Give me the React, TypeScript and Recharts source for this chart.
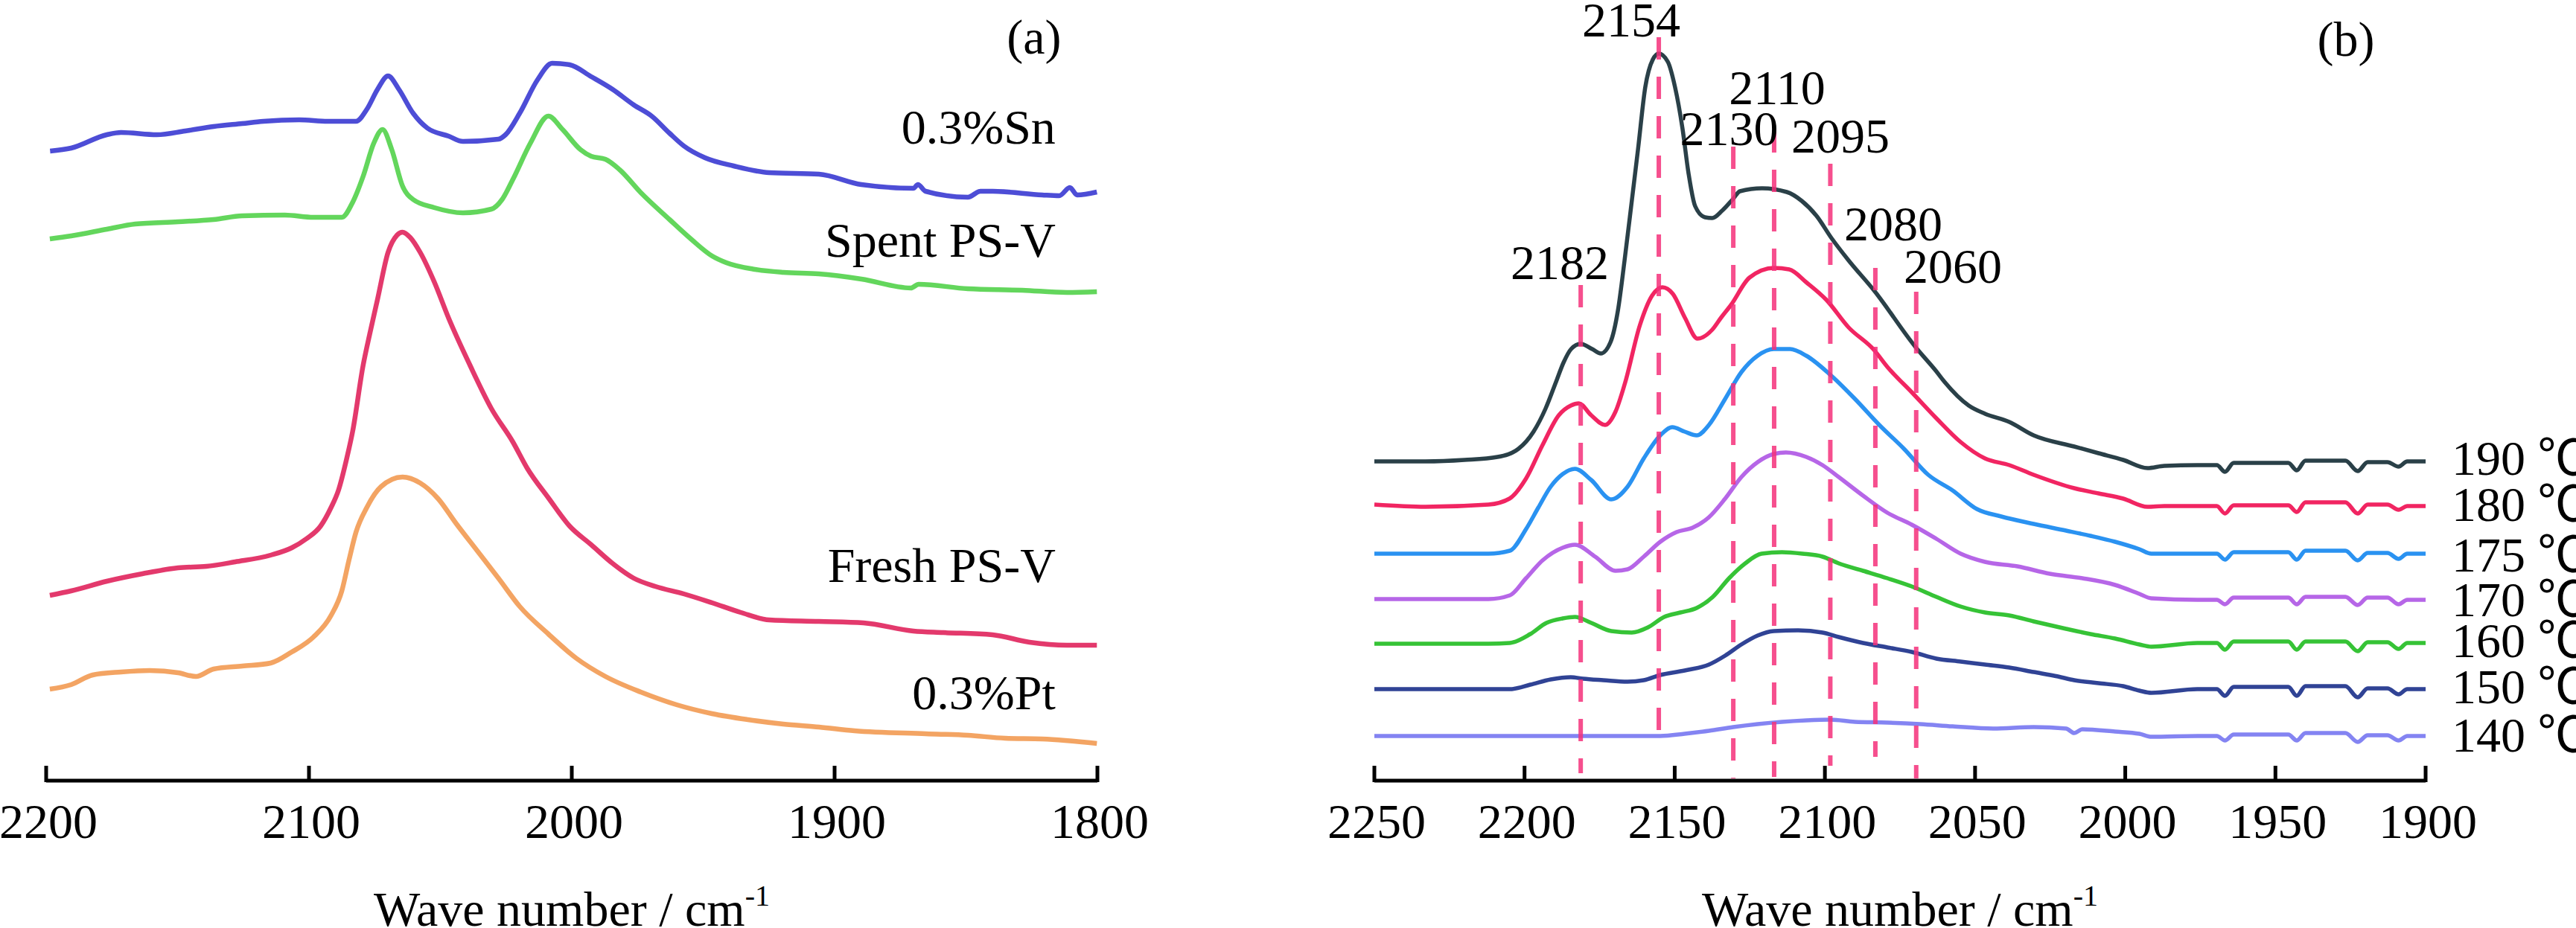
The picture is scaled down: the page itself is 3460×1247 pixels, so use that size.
import React from 'react';
import { LineChart, Line, XAxis, YAxis, ReferenceLine, ReferenceDot } from 'recharts';

const FONT = '"Liberation Serif", "Times New Roman", Times, serif';
const DEG_FONT = '"Liberation Serif", "Noto Sans CJK SC", serif';

type Pt = [number, number];

// ---------- Panel (a) ----------
const ticksA = [2200, 2100, 2000, 1900, 1800];

const sn: Pt[] = [
  [2198.5, 8.46], [2190.5, 8.5], [2176.9, 8.68], [2171.5, 8.71], [2157.9, 8.68], [2147.1, 8.73],
  [2136.3, 8.79], [2125.4, 8.83], [2117.3, 8.86], [2103.7, 8.88], [2092.9, 8.86], [2082.1, 8.86],
  [2078.0, 9.02], [2073.9, 9.29], [2069.9, 9.47], [2065.8, 9.29], [2060.4, 8.97], [2055.0, 8.77],
  [2046.8, 8.66], [2041.4, 8.59], [2027.9, 8.62], [2025.2, 8.68], [2019.8, 8.97], [2013.0, 9.42],
  [2007.5, 9.64], [2000.8, 9.62], [1992.6, 9.46], [1984.5, 9.29], [1976.4, 9.08], [1969.6, 8.93],
  [1962.8, 8.7], [1957.4, 8.53], [1949.3, 8.37], [1938.4, 8.26], [1924.9, 8.17], [1906.0, 8.15],
  [1889.8, 8.01], [1870.0, 7.96], [1868.3, 8.01], [1865.4, 7.92], [1849.3, 7.84], [1844.5, 7.92],
  [1839.8, 7.92], [1821.0, 7.87], [1814.5, 7.86], [1810.5, 7.97], [1807.7, 7.87], [1800.2, 7.91],
];

const spent: Pt[] = [
  [2198.6, 7.28], [2190.5, 7.32], [2176.9, 7.41], [2166.1, 7.48], [2149.8, 7.51], [2136.3, 7.54],
  [2125.4, 7.59], [2109.2, 7.6], [2098.3, 7.57], [2087.5, 7.57], [2083.4, 7.77], [2079.4, 8.12],
  [2075.3, 8.57], [2072.0, 8.75], [2068.5, 8.48], [2064.4, 7.99], [2060.4, 7.81], [2052.3, 7.7],
  [2041.4, 7.63], [2030.6, 7.68], [2026.5, 7.81], [2022.4, 8.08], [2015.7, 8.57], [2008.9, 8.93],
  [2003.5, 8.75], [1996.7, 8.48], [1992.6, 8.39], [1987.2, 8.35], [1981.8, 8.21], [1973.7, 7.9],
  [1962.8, 7.54], [1954.7, 7.28], [1946.6, 7.05], [1941.2, 6.96], [1930.3, 6.87], [1919.5, 6.83],
  [1906.0, 6.81], [1889.8, 6.74], [1871.0, 6.62], [1868.0, 6.67], [1849.3, 6.61], [1828.6, 6.59],
  [1811.6, 6.56], [1800.2, 6.57],
];

const fresh: Pt[] = [
  [2198.6, 2.49], [2190.5, 2.55], [2176.9, 2.68], [2163.4, 2.78], [2149.8, 2.86], [2139.0, 2.88],
  [2128.1, 2.94], [2114.6, 3.03], [2106.5, 3.13], [2101.0, 3.25], [2095.6, 3.42], [2091.6, 3.67],
  [2088.8, 3.9], [2085.5, 4.35], [2083.4, 4.69], [2079.4, 5.58], [2076.7, 6.03], [2073.9, 6.47],
  [2069.9, 7.1], [2066.5, 7.33], [2064.4, 7.37], [2061.5, 7.3], [2057.7, 7.1], [2052.3, 6.7],
  [2046.8, 6.21], [2038.7, 5.58], [2030.6, 5.0], [2022.4, 4.55], [2017.0, 4.2], [2008.9, 3.8],
  [2000.8, 3.42], [1992.6, 3.17], [1984.5, 2.92], [1976.4, 2.72], [1968.2, 2.61], [1957.4, 2.51],
  [1946.6, 2.39], [1935.7, 2.26], [1924.9, 2.16], [1906.0, 2.14], [1889.0, 2.12], [1870.0, 2.01],
  [1858.6, 1.99], [1839.9, 1.96], [1825.8, 1.86], [1811.6, 1.82], [1800.2, 1.82],
];

const pt: Pt[] = [
  [2198.6, 1.23], [2190.5, 1.29], [2182.3, 1.42], [2171.5, 1.46], [2160.6, 1.48], [2149.8, 1.45],
  [2143.0, 1.4], [2136.3, 1.5], [2125.4, 1.54], [2114.6, 1.58], [2106.5, 1.73], [2098.3, 1.93],
  [2091.6, 2.22], [2087.5, 2.55], [2084.8, 2.96], [2082.1, 3.34], [2078.0, 3.67], [2072.6, 3.95],
  [2064.4, 4.08], [2057.7, 4.0], [2050.9, 3.79], [2044.1, 3.46], [2036.0, 3.09], [2027.9, 2.72],
  [2019.8, 2.34], [2008.9, 1.97], [1998.1, 1.64], [1987.2, 1.4], [1973.7, 1.19], [1960.1, 1.02],
  [1946.6, 0.9], [1933.0, 0.82], [1919.5, 0.76], [1905.9, 0.72], [1892.4, 0.67], [1865.3, 0.63],
  [1849.3, 0.61], [1835.1, 0.57], [1821.0, 0.56], [1800.2, 0.5],
];

const namesA = ['0.3%Sn', 'Spent PS-V', 'Fresh PS-V', '0.3%Pt'];

// ---------- Panel (b) ----------
const ticksB = [2250, 2200, 2150, 2100, 2050, 2000, 1950, 1900];

const t190: Pt[] = [
  [2250, 4.29], [2233, 4.29], [2220, 4.31], [2209, 4.35], [2202, 4.46], [2197, 4.69], [2193, 5.0],
  [2189.5, 5.36], [2187, 5.62], [2184.5, 5.8], [2181.3, 5.87], [2177.5, 5.8], [2174.6, 5.74],
  [2171.4, 5.89], [2168.9, 6.32], [2166.7, 6.99], [2164.2, 7.82], [2162.2, 8.49], [2159.8, 9.32],
  [2157.3, 9.69], [2155.3, 9.77], [2152.3, 9.66], [2149.9, 9.32], [2147.4, 8.76], [2145.4, 8.16],
  [2143.2, 7.72], [2139.9, 7.57], [2137.5, 7.56], [2134.2, 7.66], [2130.5, 7.82], [2128.3, 7.92],
  [2120.9, 7.96], [2112.7, 7.91], [2107.7, 7.79], [2102.8, 7.59], [2097.8, 7.29], [2092.1, 6.99],
  [2083.7, 6.59], [2069.7, 5.82], [2063.1, 5.51], [2060.2, 5.36], [2052.1, 5.04], [2046.7, 4.93],
  [2038.6, 4.82], [2030.5, 4.64], [2017.0, 4.49], [2008.9, 4.4], [2000.7, 4.31], [1992.6, 4.2],
  [1987, 4.23], [1976, 4.24], [1969.5, 4.24], [1966.8, 4.15], [1963.9, 4.27], [1945.7, 4.27],
  [1942.9, 4.17], [1940, 4.3], [1926.7, 4.3], [1922.6, 4.16], [1919.3, 4.28], [1912.7, 4.28],
  [1909, 4.22], [1906.1, 4.29], [1900, 4.29],
];

const t180: Pt[] = [
  [2250, 3.71], [2233, 3.68], [2212, 3.71], [2205, 3.79], [2199.5, 4.06], [2194, 4.51],
  [2188.6, 4.91], [2184.6, 5.04], [2181.9, 5.07], [2177.8, 4.91], [2173.2, 4.78], [2169.7, 4.96],
  [2166.5, 5.35], [2161.6, 6.12], [2157.5, 6.52], [2154.1, 6.63], [2150.6, 6.54], [2146.6, 6.22],
  [2142.4, 5.94], [2137.5, 6.06], [2134.6, 6.22], [2131.3, 6.39], [2125.1, 6.76], [2116.9, 6.89],
  [2111.9, 6.87], [2106.0, 6.69], [2099.5, 6.46], [2092.1, 6.09], [2083.7, 5.79], [2079.0, 5.55],
  [2071.1, 5.22], [2062.9, 4.87], [2054.8, 4.55], [2046.7, 4.33], [2038.6, 4.24], [2030.5, 4.11],
  [2017.0, 3.93], [2008.9, 3.86], [2000.7, 3.79], [1992.6, 3.68], [1987, 3.69], [1976, 3.69],
  [1969.5, 3.69], [1966.8, 3.59], [1963.9, 3.7], [1945.7, 3.7], [1942.9, 3.61], [1940, 3.74],
  [1926.7, 3.74], [1922.6, 3.59], [1919.3, 3.71], [1912.7, 3.71], [1909, 3.64], [1906.1, 3.69],
  [1900, 3.69],
];

const t175: Pt[] = [
  [2250, 3.05], [2233, 3.05], [2212, 3.05], [2204.9, 3.09], [2199.5, 3.38], [2195.4, 3.67],
  [2191.3, 3.95], [2187.3, 4.12], [2183.2, 4.19], [2177.8, 4.04], [2171.1, 3.78], [2165.7, 3.95],
  [2160.3, 4.33], [2154.8, 4.64], [2150.8, 4.75], [2146.7, 4.69], [2142.7, 4.64], [2138.6, 4.78],
  [2133.2, 5.13], [2127.8, 5.49], [2122.4, 5.71], [2117.0, 5.8], [2111.6, 5.8], [2106.2, 5.71],
  [2098.1, 5.45], [2090.0, 5.13], [2081.9, 4.78], [2073.7, 4.46], [2065.6, 4.11], [2057.5, 3.9],
  [2049.4, 3.65], [2041.3, 3.55], [2030.5, 3.45], [2019.7, 3.36], [2011.6, 3.29], [2003.4, 3.21],
  [1995.3, 3.11], [1991.3, 3.05], [1976, 3.05], [1969.5, 3.05], [1966.8, 2.97], [1963.9, 3.07],
  [1945.7, 3.07], [1942.9, 2.97], [1940, 3.09], [1926.7, 3.09], [1922.6, 2.96], [1919.3, 3.06],
  [1912.7, 3.06], [1909, 2.98], [1906.1, 3.05], [1900, 3.05],
];

const t170: Pt[] = [
  [2250, 2.44], [2233, 2.44], [2212, 2.44], [2204.9, 2.49], [2199.5, 2.72], [2194.0, 2.96],
  [2187.3, 3.13], [2183.2, 3.17], [2176.5, 3.01], [2169.7, 2.82], [2165.7, 2.84], [2160.3, 3.01],
  [2154.8, 3.21], [2149.4, 3.34], [2144.0, 3.4], [2138.6, 3.54], [2133.2, 3.79], [2127.8, 4.08],
  [2122.4, 4.28], [2117.0, 4.39], [2113.0, 4.41], [2106.2, 4.35], [2100.8, 4.24], [2095.4, 4.08],
  [2087.3, 3.83], [2079.2, 3.6], [2071.1, 3.44], [2062.9, 3.25], [2054.8, 3.05], [2046.7, 2.94],
  [2035.9, 2.88], [2025.1, 2.78], [2014.3, 2.72], [2003.4, 2.63], [1995.3, 2.51], [1991.3, 2.45],
  [1976, 2.43], [1969.5, 2.43], [1966.8, 2.37], [1963.9, 2.46], [1945.7, 2.46], [1942.9, 2.37],
  [1940, 2.47], [1926.7, 2.47], [1922.6, 2.36], [1919.3, 2.46], [1912.7, 2.46], [1909, 2.37],
  [1906.1, 2.43], [1900, 2.43],
];

const t160: Pt[] = [
  [2250, 1.84], [2233, 1.84], [2212, 1.84], [2204.9, 1.85], [2198.1, 1.97], [2192.7, 2.12],
  [2187.3, 2.18], [2183.2, 2.2], [2177.8, 2.12], [2171.1, 2.01], [2164.3, 1.99], [2158.9, 2.06],
  [2153.5, 2.2], [2148.1, 2.26], [2142.7, 2.32], [2137.3, 2.47], [2131.9, 2.72], [2126.5, 2.92],
  [2121.1, 3.05], [2114.3, 3.07], [2107.5, 3.05], [2100.8, 3.01], [2095.4, 2.92], [2087.3, 2.82],
  [2079.2, 2.72], [2071.1, 2.61], [2062.9, 2.47], [2054.8, 2.34], [2046.7, 2.26], [2038.6, 2.22],
  [2030.5, 2.14], [2019.7, 2.04], [2011.6, 1.97], [2003.4, 1.91], [1995.3, 1.83], [1991.3, 1.8],
  [1976, 1.85], [1969.5, 1.85], [1966.8, 1.76], [1963.9, 1.87], [1945.7, 1.87], [1942.9, 1.76],
  [1940, 1.87], [1926.7, 1.87], [1922.6, 1.74], [1919.3, 1.86], [1912.7, 1.86], [1909, 1.77],
  [1906.1, 1.85], [1900, 1.85],
];

const t150: Pt[] = [
  [2250, 1.23], [2233, 1.23], [2212, 1.23], [2204.9, 1.23], [2198.1, 1.29], [2191.3, 1.36],
  [2184.6, 1.39], [2180.5, 1.37], [2173.8, 1.35], [2165.7, 1.33], [2160.3, 1.35], [2154.8, 1.42],
  [2146.7, 1.48], [2138.6, 1.56], [2133.2, 1.68], [2127.8, 1.83], [2122.4, 1.95], [2117.0, 2.01],
  [2108.9, 2.02], [2100.8, 1.99], [2095.4, 1.93], [2087.3, 1.85], [2079.2, 1.79], [2071.1, 1.73],
  [2062.9, 1.64], [2054.8, 1.6], [2046.7, 1.56], [2038.6, 1.52], [2030.5, 1.46], [2022.4, 1.4],
  [2017.0, 1.35], [2008.9, 1.31], [2000.7, 1.27], [1995.3, 1.21], [1991.3, 1.18], [1976, 1.23],
  [1969.5, 1.23], [1966.8, 1.14], [1963.9, 1.26], [1945.7, 1.26], [1942.9, 1.14], [1940, 1.27],
  [1926.7, 1.27], [1922.6, 1.12], [1919.3, 1.24], [1912.7, 1.24], [1909, 1.16], [1906.1, 1.23],
  [1900, 1.23],
];

const t140: Pt[] = [
  [2250, 0.6], [2200, 0.6], [2154.8, 0.6], [2146.7, 0.63], [2138.6, 0.67], [2130.5, 0.72],
  [2122.4, 0.76], [2114.3, 0.79], [2106.2, 0.81], [2098.1, 0.82], [2090.0, 0.79], [2079.2, 0.78],
  [2068.3, 0.76], [2057.5, 0.73], [2044.0, 0.7], [2030.5, 0.72], [2019.7, 0.7], [2017.0, 0.64],
  [2014.3, 0.69], [2003.4, 0.66], [1995.3, 0.63], [1991.3, 0.59], [1976, 0.6], [1969.5, 0.6],
  [1966.8, 0.54], [1963.9, 0.62], [1945.7, 0.62], [1942.9, 0.54], [1940, 0.64], [1926.7, 0.64],
  [1922.6, 0.52], [1919.3, 0.61], [1912.7, 0.61], [1909, 0.54], [1906.1, 0.6], [1900, 0.6],
];

const tempLabels = ['190 ℃', '180 ℃', '175 ℃', '170 ℃', '160 ℃', '150 ℃', '140 ℃'];

// dashed peak markers
const peakLabels = ['2182', '2154', '2130', '2110', '2095', '2080', '2060'];
const peakLinePos = [2181.3, 2155.3, 2130.5, 2116.9, 2098.2, 2083.2, 2069.6];
const peakLineTop = [6.66, 9.99, 8.52, 8.74, 8.29, 6.89, 6.57];
const peakLineBottom = [0.1, 0.49, 0.03, 0.05, 0.2, 0.32, 0.03];

// ---------- layout / style (not data) ----------
const colorsA = ['#3a3ad2', '#52d24a', '#e0245c', '#f29a52'];
const colorsB = ['#1f363e', '#f0195a', '#1f8cf0', '#b25ee6', '#2bc02b', '#25398f', '#6e6ef0'];
const labelPosA = [
  { x: 1815.9, y: 8.56 },
  { x: 1815.9, y: 7.04 },
  { x: 1815.9, y: 2.67 },
  { x: 1815.9, y: 0.96 },
];
const tempLabelY = [4.11, 3.49, 2.81, 2.21, 1.66, 1.04, 0.39];
const peakLabelPos = [
  { x: 2188.3, y: 6.74 },
  { x: 2164.5, y: 10.0 },
  { x: 2131.9, y: 8.54 },
  { x: 2115.9, y: 9.09 },
  { x: 2094.8, y: 8.44 },
  { x: 2077.2, y: 7.26 },
  { x: 2057.4, y: 6.69 },
];

const toPts = (arr: Pt[]) => arr.map(([x, y]) => ({ x, y }));

const AxisTick = (props: any) => {
  const { x, y, payload } = props;
  return (
    <g>
      <line x1={x} x2={x} y1={y + 2} y2={y - 20} stroke="#000" strokeWidth={5} />
      <text x={x + 3} y={y + 77} textAnchor="middle" fontSize={66} fontFamily={FONT} fill="#000">
        {payload.value}
      </text>
    </g>
  );
};

const textShape = (label: string, anchor: string = 'middle', family: string = FONT) => (p: any) => (
  <text x={p.cx} y={p.cy} textAnchor={anchor} fontSize={66} fontFamily={family} fill="#000">
    {label}
  </text>
);

const titleShape = (p: any) => (
  <text x={p.cx} y={p.cy} textAnchor="middle" fontSize={66} fontFamily={FONT} fill="#000">
    Wave number / cm
    <tspan dy={-27} fontSize={40}>-1</tspan>
  </text>
);

const H = 1247;
const AXIS_H = 198;

export default function App() {
  const seriesA = [sn, spent, fresh, pt];
  const seriesB = [t190, t180, t175, t170, t160, t150, t140];
  return (
    <div style={{ position: 'absolute', left: 0, top: 0, width: 3460, height: H, background: '#fff', overflow: 'hidden' }}>
      <div style={{ position: 'absolute', left: 0, top: 0 }}>
        <LineChart width={1700} height={H} margin={{ top: 0, right: 226, bottom: 0, left: 62 }}>
          <XAxis
            type="number"
            dataKey="x"
            domain={[1800, 2200]}
            reversed
            ticks={ticksA}
            interval={0}
            height={AXIS_H}
            axisLine={{ stroke: '#000', strokeWidth: 5 }}
            tickLine={false}
            tickSize={0}
            tickMargin={0}
            tick={(p: any) => <AxisTick {...p} />}
          />
          <YAxis type="number" domain={[0, 10.49]} hide />
          {seriesA.map((s, i) => (
            <Line
              key={namesA[i]}
              data={toPts(s)}
              dataKey="y"
              type="monotone"
              stroke={colorsA[i]}
              strokeWidth={6.5}
              strokeOpacity={0.9}
              strokeLinejoin="round"
              dot={false}
              activeDot={false}
              isAnimationActive={false}
            />
          ))}
          {namesA.map((n, i) => (
            <ReferenceDot key={'la' + i} x={labelPosA[i].x} y={labelPosA[i].y} ifOverflow="visible" shape={textShape(n, 'end')} />
          ))}
          <ReferenceDot x={1824.1} y={9.77} ifOverflow="visible" shape={textShape('(a)')} />
          <ReferenceDot x={2000} y={-1.95} ifOverflow="visible" shape={titleShape} />
        </LineChart>
      </div>
      <div style={{ position: 'absolute', left: 1700, top: 0 }}>
        <LineChart width={1760} height={H} margin={{ top: 0, right: 202, bottom: 0, left: 146 }}>
          <XAxis
            type="number"
            dataKey="x"
            domain={[1900, 2250]}
            reversed
            ticks={ticksB}
            interval={0}
            height={AXIS_H}
            axisLine={{ stroke: '#000', strokeWidth: 5 }}
            tickLine={false}
            tickSize={0}
            tickMargin={0}
            tick={(p: any) => <AxisTick {...p} />}
          />
          <YAxis type="number" domain={[0, 10.49]} hide />
          {seriesB.map((s, i) => (
            <Line
              key={tempLabels[i]}
              data={toPts(s)}
              dataKey="y"
              type="monotone"
              stroke={colorsB[i]}
              strokeWidth={5.5}
              strokeOpacity={i === 6 ? 0.85 : 0.95}
              strokeLinejoin="round"
              dot={false}
              activeDot={false}
              isAnimationActive={false}
            />
          ))}
          {peakLinePos.map((px, i) => (
            <ReferenceLine
              key={'pl' + i}
              segment={[{ x: px, y: peakLineTop[i] }, { x: px, y: peakLineBottom[i] }]}
              stroke="#f5307a"
              strokeOpacity={0.85}
              strokeWidth={6}
              strokeDasharray="30 23"
              ifOverflow="visible"
            />
          ))}
          {peakLabels.map((l, i) => (
            <ReferenceDot key={'pk' + i} x={peakLabelPos[i].x} y={peakLabelPos[i].y} ifOverflow="visible" shape={textShape(l)} />
          ))}
          {tempLabels.map((l, i) => (
            <ReferenceDot key={'tl' + i} x={1891.3} y={tempLabelY[i]} ifOverflow="visible" shape={textShape(l, 'start', DEG_FONT)} />
          ))}
          <ReferenceDot x={1926.5} y={9.74} ifOverflow="visible" shape={textShape('(b)')} />
          <ReferenceDot x={2075} y={-1.95} ifOverflow="visible" shape={titleShape} />
        </LineChart>
      </div>
    </div>
  );
}
